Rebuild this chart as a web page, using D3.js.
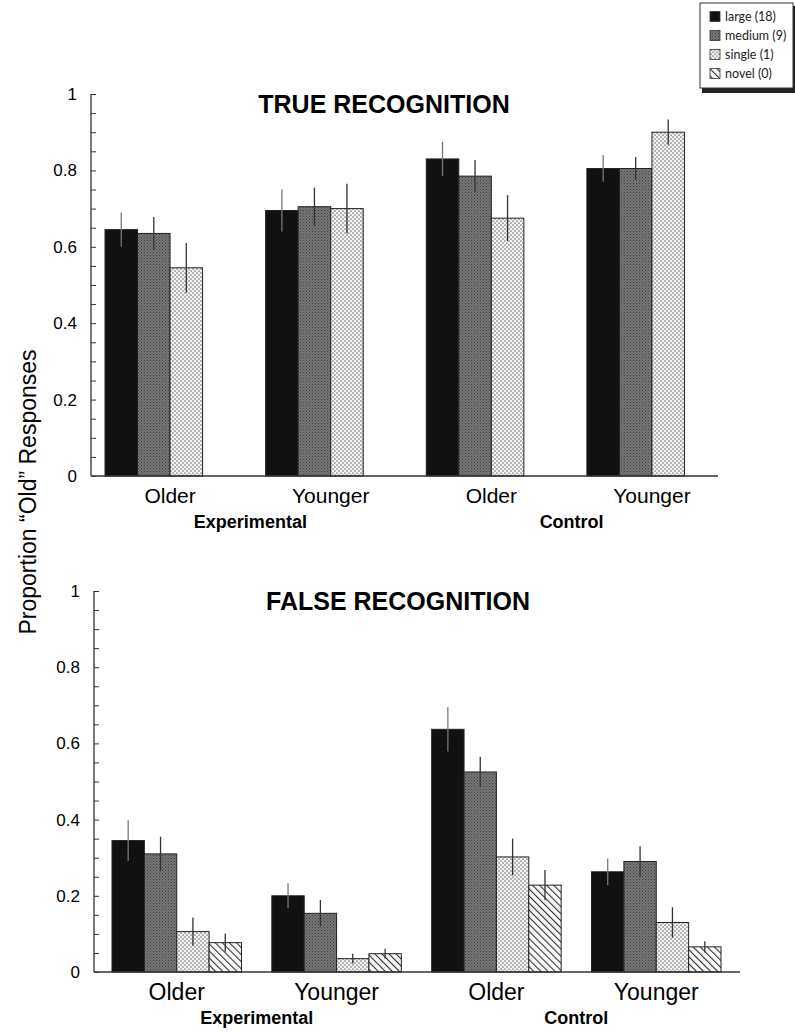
<!DOCTYPE html>
<html>
<head>
<meta charset="utf-8">
<script src="https://cdn.jsdelivr.net/npm/d3@7/dist/d3.min.js"></script>
<style>
  body { margin: 0; background: #fff; }
  svg { display: block; }
</style>
</head>
<body>
<svg id="svg"></svg>
<script>

var width = 795;
var height = 1033;

// groups along x
var groupKeys = ["expOlder", "expYounger", "ctlOlder", "ctlYounger"];
var groupLabels = ["Older", "Younger", "Older", "Younger"];
var conditionLabels = ["Experimental", "Control"];
var seriesKeys = ["large", "medium", "single", "novel"];
var seriesLabels = ["large (18)", "medium (9)", "single (1)", "novel (0)"];
var yTicks = [0, 0.2, 0.4, 0.6, 0.8, 1];
var yLabels = ["0", "0.2", "0.4", "0.6", "0.8", "1"];

// TRUE RECOGNITION (no novel bars)
var trueLarge  = [0.645, 0.695, 0.830, 0.805];
var trueMedium = [0.635, 0.705, 0.785, 0.805];
var trueSingle = [0.545, 0.700, 0.675, 0.900];
var trueLargeErr  = [0.045, 0.055, 0.045, 0.035];
var trueMediumErr = [0.043, 0.050, 0.042, 0.030];
var trueSingleErr = [0.065, 0.065, 0.060, 0.033];

// FALSE RECOGNITION
var falseLarge  = [0.345, 0.200, 0.637, 0.263];
var falseMedium = [0.310, 0.154, 0.525, 0.290];
var falseSingle = [0.106, 0.035, 0.302, 0.130];
var falseNovel  = [0.077, 0.048, 0.228, 0.066];
var falseLargeErr  = [0.053, 0.033, 0.058, 0.035];
var falseMediumErr = [0.045, 0.035, 0.040, 0.040];
var falseSingleErr = [0.037, 0.013, 0.048, 0.040];
var falseNovelErr  = [0.024, 0.013, 0.040, 0.015];

var svg;
var FONT = "Liberation Sans, Arial, sans-serif";

function buildRows(values, errors){
    var rows = [];
    groupKeys.forEach(function(g, gi){
        values.forEach(function(v, si){
            rows.push({group: g, series: seriesKeys[si], value: v[gi], err: errors[si][gi]});
        });
    });
    return rows;
}

function initPatterns(){
    var defs = svg.append("defs");

    // medium: dark grey, fine dots
    var pm = defs.append("pattern").attr("id", "pat-medium")
        .attr("patternUnits", "userSpaceOnUse").attr("width", 3).attr("height", 3);
    pm.append("rect").attr("width", 3).attr("height", 3).attr("fill", "#747474");
    pm.append("rect").attr("x", 0).attr("y", 0).attr("width", 1).attr("height", 1).attr("fill", "#444");
    pm.append("rect").attr("x", 1.5).attr("y", 1.5).attr("width", 1).attr("height", 1).attr("fill", "#555");

    // single: light stipple
    var ps = defs.append("pattern").attr("id", "pat-single")
        .attr("patternUnits", "userSpaceOnUse").attr("width", 4).attr("height", 4);
    ps.append("rect").attr("width", 4).attr("height", 4).attr("fill", "#f2f2f2");
    ps.append("circle").attr("cx", 1).attr("cy", 1).attr("r", 0.85).attr("fill", "#7a7a7a");
    ps.append("circle").attr("cx", 3).attr("cy", 3).attr("r", 0.85).attr("fill", "#7a7a7a");

    // novel: diagonal hatching, top-left to bottom-right
    var pn = defs.append("pattern").attr("id", "pat-novel")
        .attr("patternUnits", "userSpaceOnUse").attr("width", 5).attr("height", 5)
        .attr("patternTransform", "rotate(-45)");
    pn.append("rect").attr("width", 5).attr("height", 5).attr("fill", "#fafafa");
    pn.append("line").attr("x1", 0).attr("y1", 0).attr("x2", 0).attr("y2", 5)
        .attr("stroke", "#333").attr("stroke-width", 2.2);
}

var fillFor = {
    large: "#111",
    medium: "url(#pat-medium)",
    single: "url(#pat-single)",
    novel: "url(#pat-novel)"
};

function drawPanel(opts){
    var g = svg.append("g");

    var x0 = d3.scaleBand().domain(groupKeys).range(opts.xRange).paddingInner(0.19).paddingOuter(0);
    var x1 = d3.scaleBand().domain(seriesKeys).range([0, x0.bandwidth()]).padding(0);
    var y = d3.scaleLinear().domain([0, 1]).range(opts.yRange);

    // y axis with inward ticks, minor every 0.05
    var yAxis = d3.axisRight(y).tickValues(d3.range(0, 1.0001, 0.05)).tickSize(5).tickFormat("");
    var ya = g.append("g").attr("transform", "translate(" + opts.axisX + ",0)").call(yAxis);
    ya.select(".domain").remove();
    ya.selectAll("line").attr("stroke", "#333").attr("stroke-width", 1);
    g.append("line")
        .attr("x1", opts.axisX).attr("x2", opts.axisX)
        .attr("y1", y(1)).attr("y2", y(0))
        .attr("stroke", "#333").attr("stroke-width", 1.3);

    g.selectAll(".ylab").data(yTicks).enter().append("text")
        .attr("x", opts.axisX - 14)
        .attr("y", function(d){ return y(d); })
        .attr("dy", "0.35em")
        .attr("text-anchor", "end")
        .attr("font-family", FONT)
        .attr("font-size", 17)
        .text(function(d, i){ return yLabels[i]; });

    // bars
    var rows = buildRows(opts.values, opts.errors);
    var bars = g.append("g");
    bars.selectAll("rect").data(rows).enter().append("rect")
        .attr("x", function(d){ return x0(d.group) + x1(d.series); })
        .attr("y", function(d){ return y(d.value); })
        .attr("width", x1.bandwidth())
        .attr("height", function(d){ return y(0) - y(d.value); })
        .attr("fill", function(d){ return fillFor[d.series]; })
        .attr("stroke", "#222")
        .attr("stroke-width", 1);

    // error bars
    bars.selectAll("line.err").data(rows).enter().append("line")
        .attr("class", "err")
        .attr("x1", function(d){ return x0(d.group) + x1(d.series) + x1.bandwidth() / 2; })
        .attr("x2", function(d){ return x0(d.group) + x1(d.series) + x1.bandwidth() / 2; })
        .attr("y1", function(d){ return y(d.value + d.err); })
        .attr("y2", function(d){ return y(Math.max(0, d.value - d.err)); })
        .attr("stroke", function(d){ return d.series == "large" ? "#777" : "#333"; })
        .attr("stroke-width", 1.3);

    // x baseline
    g.append("line")
        .attr("x1", opts.axisX).attr("x2", opts.xEnd)
        .attr("y1", y(0)).attr("y2", y(0))
        .attr("stroke", "#333").attr("stroke-width", 1.5);

    // group labels
    g.selectAll(".xlab").data(groupKeys).enter().append("text")
        .attr("x", function(d){ return x0(d) + x0.bandwidth() / 2; })
        .attr("y", y(0) + opts.labelDy)
        .attr("text-anchor", "middle")
        .attr("font-family", FONT)
        .attr("font-size", opts.labelSize)
        .text(function(d, i){ return groupLabels[i]; });

    conditionLabels.forEach(function(c, i){
        var a = x0(groupKeys[i * 2]);
        var b = x0(groupKeys[i * 2 + 1]) + x0.bandwidth();
        g.append("text")
            .attr("x", (a + b) / 2)
            .attr("y", y(0) + opts.condDy)
            .attr("text-anchor", "middle")
            .attr("font-family", FONT)
            .attr("font-weight", "bold")
            .attr("font-size", opts.condSize)
            .text(c);
    });

    g.append("text")
        .attr("x", opts.titleX)
        .attr("y", opts.titleY)
        .attr("text-anchor", "middle")
        .attr("font-family", FONT)
        .attr("font-weight", "bold")
        .attr("font-size", 25)
        .text(opts.title);
}

function drawLegend(){
    var lg = svg.append("g").attr("transform", "translate(700,3)");
    // shadow
    lg.append("rect").attr("x", 2).attr("y", 3).attr("width", 93).attr("height", 87).attr("fill", "#222");
    lg.append("rect").attr("x", 0).attr("y", 0).attr("width", 93).attr("height", 85)
        .attr("fill", "#fff").attr("stroke", "#333").attr("stroke-width", 1);

    var ly = d3.scaleBand().domain(seriesKeys).range([4, 80]);
    seriesKeys.forEach(function(s, i){
        lg.append("rect")
            .attr("x", 10).attr("y", ly(s) + ly.bandwidth() / 2 - 5)
            .attr("width", 10).attr("height", 10)
            .attr("fill", fillFor[s]).attr("stroke", "#333").attr("stroke-width", 0.8);
        lg.append("text")
            .attr("x", 25).attr("y", ly(s) + ly.bandwidth() / 2)
            .attr("dy", "0.35em")
            .attr("font-family", "Lato, sans-serif")
            .attr("font-size", 12.5)
            .attr("fill", "#222")
            .text(seriesLabels[i]);
    });
}

function init(){
    svg = d3.select("#svg").attr("width", width).attr("height", height);
    svg.append("rect").attr("width", width).attr("height", height).attr("fill", "#fff");
    initPatterns();

    drawPanel({
        title: "TRUE RECOGNITION", titleX: 384, titleY: 113,
        values: [trueLarge, trueMedium, trueSingle],
        errors: [trueLargeErr, trueMediumErr, trueSingleErr],
        xRange: [105, 717], yRange: [476, 94], axisX: 91, xEnd: 718,
        labelDy: 27, labelSize: 21, condDy: 52, condSize: 18
    });

    drawPanel({
        title: "FALSE RECOGNITION", titleX: 398, titleY: 610,
        values: [falseLarge, falseMedium, falseSingle, falseNovel],
        errors: [falseLargeErr, falseMediumErr, falseSingleErr, falseNovelErr],
        xRange: [112, 721], yRange: [972, 591], axisX: 94, xEnd: 740,
        labelDy: 28, labelSize: 23, condDy: 52, condSize: 18
    });

    svg.append("text")
        .attr("transform", "translate(36,492) rotate(-90)")
        .attr("text-anchor", "middle")
        .attr("font-family", FONT)
        .attr("font-size", 23)
        .text("Proportion \u201COld\u201D Responses");

    drawLegend();
}

document.addEventListener("DOMContentLoaded", function(event) {
    init();
});
</script>
</body>
</html>
